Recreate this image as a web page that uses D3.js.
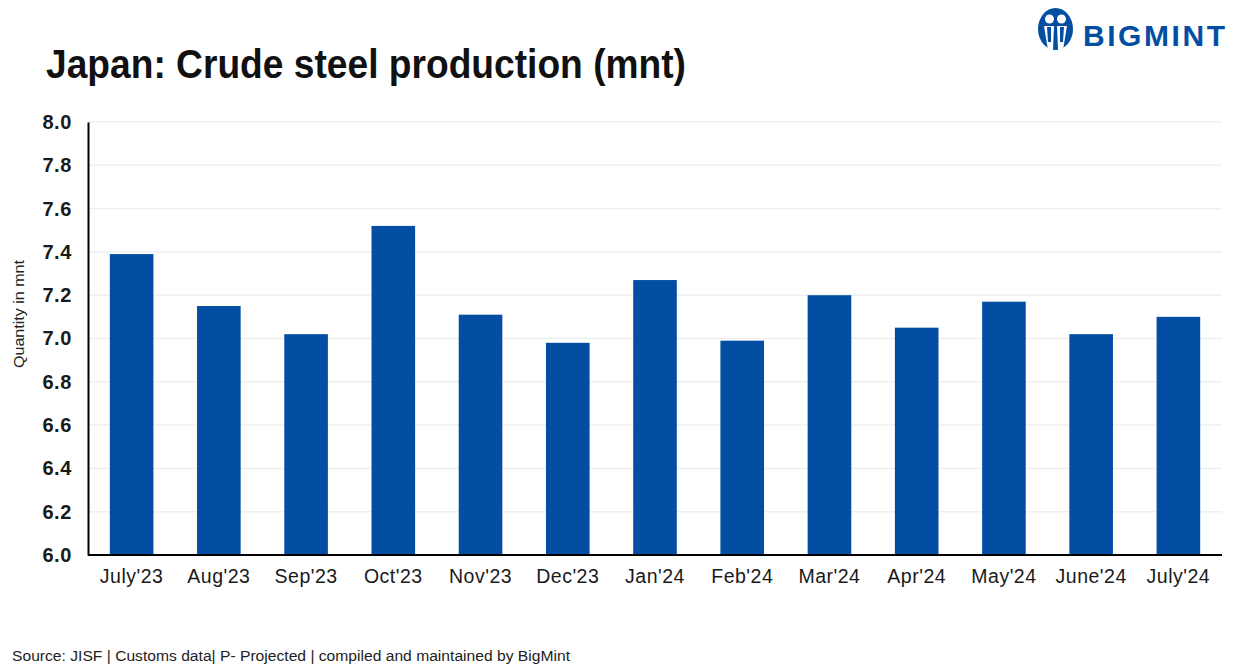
<!DOCTYPE html>
<html><head><meta charset="utf-8">
<script src="https://cdn.jsdelivr.net/npm/d3@7"></script>
<style>body{margin:0;background:#fff;}svg{display:block;font-family:"Liberation Sans",Arial,sans-serif;}</style>
</head><body>
<svg id="c" width="1242" height="669"></svg>
<script>
const categories = ["July'23","Aug'23","Sep'23","Oct'23","Nov'23","Dec'23","Jan'24","Feb'24","Mar'24","Apr'24","May'24","June'24","July'24"];
const values = [7.39,7.15,7.02,7.52,7.11,6.98,7.27,6.99,7.20,7.05,7.17,7.02,7.10];
const yTicks = [6.0,6.2,6.4,6.6,6.8,7.0,7.2,7.4,7.6,7.8,8.0];

const svg = d3.select("#c");
const m = {l:88, r:1222, t:122, b:555};
const x = d3.scaleBand().domain(categories).range([m.l, m.r]).paddingInner(0.5).paddingOuter(0.25);
const y = d3.scaleLinear().domain([6,8]).range([m.b, m.t]);
const blue = "#034ea2";

// gridlines
svg.append("g").selectAll("line").data(yTicks.slice(1)).join("line")
  .attr("x1", m.l).attr("x2", m.r).attr("y1", d=>y(d)).attr("y2", d=>y(d))
  .attr("stroke", "#efefef").attr("stroke-width", 1.5);

// bars
svg.append("g").selectAll("rect").data(values).join("rect")
  .attr("x", (d,i)=>x(categories[i])).attr("width", x.bandwidth())
  .attr("y", d=>y(d)).attr("height", d=>y(6)-y(d)).attr("fill", blue);

// y axis
const ya = svg.append("g").attr("transform", `translate(${m.l},0)`)
  .call(d3.axisLeft(y).tickValues(yTicks).tickFormat(d3.format(".1f")).tickSize(0).tickPadding(16));
ya.select(".domain").attr("stroke", "#000").attr("stroke-width", 2);
ya.selectAll("text").attr("font-size", 20).attr("font-weight", "bold").attr("fill", "#1a1a1a")
  .attr("letter-spacing", 0.6).attr("font-family", "Liberation Sans, Arial, sans-serif");

// x axis
const xa = svg.append("g").attr("transform", `translate(0,${m.b})`)
  .call(d3.axisBottom(x).tickSize(0).tickPadding(14));
xa.select(".domain").attr("stroke", "#000").attr("stroke-width", 2).attr("d", `M${m.l},0H${m.r}`);
xa.selectAll("text").attr("font-size", 19.5).attr("fill", "#1a1a1a").attr("letter-spacing", 0.5)
  .attr("font-family", "Liberation Sans, Arial, sans-serif");

// y label
svg.append("text").attr("transform", "translate(24,314) rotate(-90)")
  .attr("text-anchor", "middle").attr("font-size", 14).attr("fill", "#222")
  .attr("textLength", 108).attr("lengthAdjust", "spacingAndGlyphs").text("Quantity in mnt");

// title
svg.append("text").attr("x", 46).attr("y", 78).attr("font-size", 40).attr("font-weight", "bold")
  .attr("fill", "#111").attr("textLength", 640).attr("lengthAdjust", "spacingAndGlyphs")
  .text("Japan: Crude steel production (mnt)");

// source
svg.append("text").attr("x", 12).attr("y", 661).attr("font-size", 15.5).attr("fill", "#222")
  .attr("textLength", 558).attr("lengthAdjust", "spacingAndGlyphs")
  .text("Source: JISF | Customs data|  P- Projected | compiled and maintained by BigMint");

// logo
const lg = svg.append("g").attr("transform", "translate(1038,8)");
lg.append("ellipse").attr("cx", 17.5).attr("cy", 21).attr("rx", 17.5).attr("ry", 21).attr("fill", blue);
lg.append("circle").attr("cx", 11.5).attr("cy", 11).attr("r", 4.5).attr("fill", "#fff");
lg.append("circle").attr("cx", 23.5).attr("cy", 11).attr("r", 4.5).attr("fill", "#fff");
lg.append("path").attr("d", "M6,18 L16,18 L15,42 L10,42 Z M19,18 L29,18 L25,42 L20,42 Z").attr("fill", "#fff");
lg.append("path").attr("d", "M9,19 L13,19 L13,34 L10,34 Z M22,19 L26,19 L25,34 L22,34 Z").attr("fill", blue);
lg.append("text").attr("x", 45).attr("y", 38).attr("font-size", 30).attr("font-weight", "bold")
  .attr("fill", blue).attr("textLength", 142).attr("lengthAdjust", "spacing").text("BIGMINT");
</script>
</body></html>
